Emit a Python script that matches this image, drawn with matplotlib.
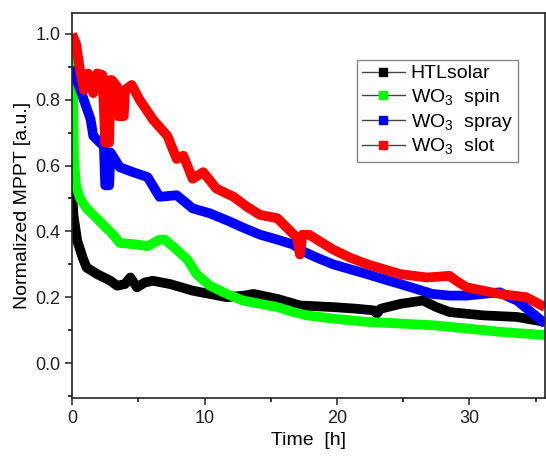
import matplotlib
matplotlib.use("Agg")
import matplotlib.pyplot as plt
from matplotlib.lines import Line2D
from matplotlib.ticker import MultipleLocator

plt.rcParams['font.family'] = ['Liberation Sans', 'DejaVu Sans']
plt.rcParams['mathtext.fontset'] = 'custom'
plt.rcParams['mathtext.rm'] = 'Liberation Sans'

labels = ["HTLsolar", "WO$_3$  spin", "WO$_3$  spray", "WO$_3$  slot"]
colors = ["#000000", "#00ff00", "#0000ff", "#ff0000"]

htl_x = [0, 0.1, 0.4, 0.8, 1.1, 1.9, 2.9, 3.4, 4.0, 4.4, 4.9, 5.5, 6.1, 7.4, 9.1, 10.4, 11.7, 13.0, 13.7,
         15.5, 17.2, 19.7, 21.5, 22.8, 23.0, 23.3, 24.8, 26.5, 27.5, 28.5, 31.0, 33.6, 35.7]
htl_y = [0.53, 0.45, 0.37, 0.32, 0.29, 0.27, 0.25, 0.235, 0.24, 0.26, 0.23, 0.245, 0.25, 0.24, 0.22, 0.21, 0.20,
         0.205, 0.21, 0.195, 0.175, 0.17, 0.165, 0.16, 0.15, 0.165, 0.18, 0.19, 0.17, 0.155, 0.145, 0.14, 0.125]

spin_x = [0, 0.05, 0.15, 0.3, 0.6, 1.1, 2.1, 3.1, 3.6, 4.9, 5.7, 6.6, 7.0, 7.6, 8.7, 9.4, 10.4, 11.7, 12.9,
          14.2, 15.5, 16.7, 17.7, 19.7, 22.3, 24.8, 27.2, 29.8, 32.3, 35.7]
spin_y = [1.0, 0.85, 0.62, 0.54, 0.50, 0.47, 0.43, 0.39, 0.365, 0.36, 0.355, 0.375, 0.375, 0.355, 0.315, 0.27,
          0.235, 0.21, 0.19, 0.18, 0.17, 0.155, 0.145, 0.135, 0.125, 0.12, 0.115, 0.105, 0.095, 0.085]

spray_x = [0, 0.8, 1.4, 1.6, 2.1, 2.4, 2.5, 2.8, 2.9, 3.6, 4.6, 5.7, 6.6, 7.9, 9.1, 10.4, 11.9, 13.0, 14.2,
           15.5, 16.7, 17.4, 18.5, 19.7, 21.0, 22.3, 23.5, 24.8, 26.0, 27.2, 28.5, 29.8, 31.0, 32.3, 33.0,
           33.6, 34.8, 35.7]
spray_y = [0.90, 0.81, 0.74, 0.69, 0.67, 0.66, 0.54, 0.54, 0.64, 0.595, 0.58, 0.565, 0.505, 0.51, 0.47,
           0.455, 0.43, 0.41, 0.39, 0.375, 0.36, 0.34, 0.32, 0.30, 0.285, 0.27, 0.255, 0.24, 0.225, 0.21,
           0.205, 0.205, 0.21, 0.215, 0.20, 0.19, 0.15, 0.12]

slot_x = [0, 0.3, 0.6, 0.9, 1.2, 1.6, 1.9, 2.3, 2.5, 2.8, 2.9, 3.0, 3.4, 3.5, 3.9, 4.0, 4.5, 5.1, 6.1, 7.2,
          7.9, 8.4, 9.1, 9.9, 10.9, 12.2, 13.2, 14.2, 15.5, 16.5, 17.0, 17.2, 17.4, 17.9, 19.7, 21.0, 22.3,
          24.8, 26.8, 28.5, 29.0, 29.8, 32.3, 34.3, 35.7]
slot_y = [1.00, 0.97, 0.89, 0.83, 0.88, 0.82, 0.88, 0.875, 0.67, 0.67, 0.86, 0.86, 0.84, 0.75, 0.75, 0.83,
          0.845, 0.80, 0.74, 0.69, 0.62, 0.63, 0.56, 0.58, 0.53, 0.505, 0.475, 0.45, 0.44, 0.40, 0.38, 0.33,
          0.39, 0.39, 0.345, 0.32, 0.30, 0.27, 0.26, 0.265, 0.25, 0.23, 0.21, 0.20, 0.17]

series = [(htl_x, htl_y), (spin_x, spin_y), (spray_x, spray_y), (slot_x, slot_y)]

fig = plt.figure(figsize=(5.46, 4.59), dpi=100)
ax = fig.add_axes([0.132, 0.133, 0.866, 0.839])

for (xs, ys), c in zip(series, colors):
    ax.plot(xs, ys, color=c, lw=7, solid_joinstyle='round', solid_capstyle='butt')

ax.set_xlim(0, 35.7)
ax.set_ylim(-0.106, 1.064)
ax.xaxis.set_major_locator(MultipleLocator(10))
ax.xaxis.set_minor_locator(MultipleLocator(5))
ax.yaxis.set_major_locator(MultipleLocator(0.2))
ax.yaxis.set_minor_locator(MultipleLocator(0.1))
ax.yaxis.set_major_formatter(plt.FuncFormatter(lambda v, p: f"{v:.1f}"))
ax.tick_params(which='major', direction='out', length=5, width=1.1, labelsize=13, colors='#222222',
               top=False, right=False)
ax.tick_params(which='minor', direction='out', length=3, width=1.1, top=False, right=False)
for s in ax.spines.values():
    s.set_linewidth(1.2)
    s.set_color('#222222')

ax.set_xlabel("Time  [h]", fontsize=14, labelpad=4)
ax.set_ylabel("Normalized MPPT [a.u.]", fontsize=14, labelpad=3)

handles = [Line2D([0], [0], color='#444444', lw=1, marker='s', markersize=6,
                  markerfacecolor=c, markeredgecolor=c) for c in colors]
leg = ax.legend(handles, labels, loc='upper left', bbox_to_anchor=(0.603, 0.878), fontsize=14,
                frameon=True, fancybox=False, edgecolor='#888888', framealpha=1,
                handlelength=2.2, handletextpad=0.3, labelspacing=0.22, borderpad=0.25,
                borderaxespad=0)
leg.get_frame().set_linewidth(1.0)

fig.savefig("out.png", dpi=100)
